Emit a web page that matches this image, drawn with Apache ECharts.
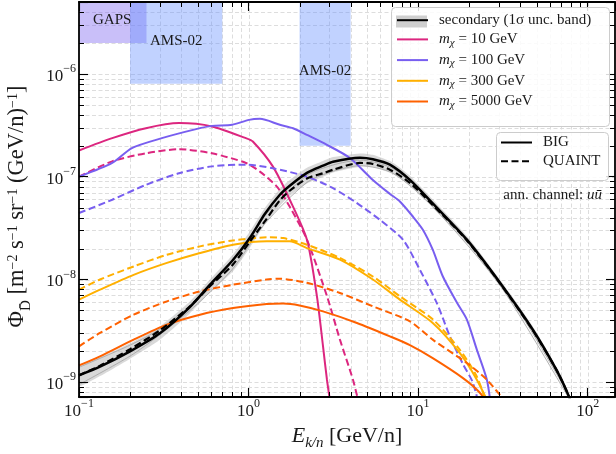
<!DOCTYPE html>
<html><head><meta charset="utf-8">
<script src="https://cdn.jsdelivr.net/npm/echarts@6/dist/echarts.min.js"></script>
<style>html,body{margin:0;padding:0;background:#fff}#c{width:616px;height:454px}</style>
</head><body><div id="c"></div>
<script>
const FONT = '"Liberation Serif","DejaVu Serif",serif';
const TXT = '#1a1a1a';
const xRange = [0.1, 145];
const yRange = [7.2e-10, 5e-6];
const gridXValues = [0.2,0.3,0.4,0.5,0.6,0.7,0.8,0.9,1,2,3,4,5,6,7,8,9,10,20,30,40,50,60,70,80,90,100];
const gridYValues = [8e-10,9e-10,1e-9,2e-9,3e-9,4e-9,5e-9,6e-9,7e-9,8e-9,9e-9,1e-8,2e-8,3e-8,4e-8,5e-8,6e-8,7e-8,8e-8,9e-8,1e-7,2e-7,3e-7,4e-7,5e-7,6e-7,7e-7,8e-7,9e-7,1e-6,2e-6,3e-6,4e-6];
const minorXTicks = [0.2,0.3,0.4,0.5,0.6,0.7,0.8,0.9,2,3,4,5,6,7,8,9,20,30,40,50,60,70,80,90];
const minorYTicks = [8e-10,9e-10,2e-9,3e-9,4e-9,5e-9,6e-9,7e-9,8e-9,9e-9,2e-8,3e-8,4e-8,5e-8,6e-8,7e-8,8e-8,9e-8,2e-7,3e-7,4e-7,5e-7,6e-7,7e-7,8e-7,9e-7,2e-6,3e-6,4e-6];

// experiment boxes [E_min, Phi_min] -> [E_max, Phi_max]
const gapsBox = [[0.1, 2e-6], [0.25, 5e-6]];
const ams1Box = [[0.2, 8e-7], [0.7, 5e-6]];
const ams2Box = [[2, 2e-7], [4, 5e-6]];

// secondary
const secondaryBIG = [[0.1,1.17e-9],[0.133,1.42e-9],[0.2,2.0e-9],[0.3,3.0e-9],[0.446,5.3e-9],[0.592,8.9e-9],[0.809,1.55e-8],[1.02,2.55e-8],[1.25,4.36e-8],[1.53,6.67e-8],[1.75,8.17e-8],[2.21,1.09e-7],[2.75,1.28e-7],[3.15,1.4e-7],[4.54,1.53e-7],[5.41,1.48e-7],[6.82,1.31e-7],[8.95,9.3e-8],[12.2,5.5e-8],[19.4,2.44e-8],[30.4,9.3e-9],[47.5,3.25e-9],[65.8,1.3e-9],[77.5,7.3e-10],[80,6e-10]];
const secondaryQUAINT = [[0.1,1.17e-9],[0.133,1.45e-9],[0.2,2.1e-9],[0.3,3.2e-9],[0.446,5.4e-9],[0.592,8.6e-9],[0.809,1.4e-8],[1.02,2.35e-8],[1.25,3.7e-8],[1.53,5.9e-8],[1.75,7.3e-8],[2.21,9.6e-8],[2.75,1.08e-7],[3.15,1.17e-7],[4.54,1.36e-7],[5.41,1.33e-7],[6.82,1.17e-7],[8.95,8.7e-8],[12.2,5.3e-8],[19.4,2.4e-8],[30.4,9.2e-9],[47.5,3.2e-9],[65.8,1.3e-9],[77.5,7.3e-10],[80,6e-10]];
const bandUpper = [[0.1,1.45e-9],[0.133,1.75e-9],[0.2,2.4e-9],[0.3,3.5e-9],[0.446,6.0e-9],[0.592,1.0e-8],[0.809,1.75e-8],[1.02,2.95e-8],[1.25,5.0e-8],[1.53,7.6e-8],[1.75,9.3e-8],[2.21,1.22e-7],[2.75,1.42e-7],[3.15,1.55e-7],[4.54,1.68e-7],[5.41,1.63e-7],[7.1,1.37e-7],[8.95,1.02e-7],[12.2,6.0e-8],[19.4,2.65e-8],[30.4,1.0e-8],[47.5,3.5e-9],[65.8,1.4e-9],[77.5,8.0e-10],[82,6e-10]];
const bandLower = [[0.1,0.92e-9],[0.133,1.15e-9],[0.2,1.7e-9],[0.3,2.6e-9],[0.446,4.6e-9],[0.592,7.5e-9],[0.809,1.2e-8],[1.02,2.05e-8],[1.25,3.45e-8],[1.53,5.2e-8],[1.75,6.5e-8],[2.21,8.6e-8],[2.75,1.0e-7],[3.15,1.1e-7],[4.54,1.25e-7],[5.41,1.24e-7],[7.1,1.06e-7],[8.95,8.2e-8],[12.2,5.0e-8],[19.4,2.25e-8],[30.4,8.6e-9],[47.5,3.0e-9],[65.8,1.2e-9],[77.5,6.7e-10],[78,6e-10]];
const grayCurveA = [[0.1,0.95e-9],[0.2,1.8e-9],[0.3,2.9e-9],[0.5,5.8e-9],[0.8,1.25e-8],[1.25,3.5e-8],[2.21,8.8e-8],[3.15,1.13e-7],[4.54,1.28e-7],[7.1,1.08e-7],[12.2,5.1e-8],[30.4,8.8e-9],[77.5,7e-10]];
const grayCurveB = [[0.1,1.4e-9],[0.2,2.3e-9],[0.3,3.3e-9],[0.5,6.4e-9],[0.8,1.5e-8],[1.25,4.2e-8],[2.21,1.03e-7],[3.15,1.3e-7],[4.54,1.45e-7],[7.1,1.2e-7],[12.2,5.6e-8],[30.4,9.6e-9],[77.5,7.5e-10]];

// dark matter, m = 10 GeV
const m10BIG = [[0.1,1.8e-7],[0.157,2.37e-7],[0.248,2.96e-7],[0.389,3.32e-7],[0.608,3.08e-7],[0.965,2.37e-7],[1.06,2.2e-7],[1.39,1.26e-7],[1.75,5.97e-8],[2.21,2.44e-8],[2.53,6.9e-9],[2.75,2.24e-9],[2.9,1.06e-9],[3.05,6e-10]];
const m10QUAINT = [[0.1,1.0e-7],[0.157,1.41e-7],[0.248,1.69e-7],[0.389,1.85e-7],[0.608,1.69e-7],[0.965,1.36e-7],[1.167,1.12e-7],[1.47,8.0e-8],[1.75,5.1e-8],[2.21,2.44e-8],[2.9,6.9e-9],[3.46,2.6e-9],[4.13,1.06e-9],[4.5,6e-10]];
// m = 100 GeV
const m100BIG = [[0.1,1.0e-7],[0.157,1.36e-7],[0.205,1.9e-7],[0.308,2.37e-7],[0.49,2.9e-7],[0.608,3.12e-7],[0.8,3.2e-7],[1.006,3.57e-7],[1.167,3.65e-7],[1.53,3.2e-7],[1.83,2.96e-7],[2.21,2.55e-7],[2.9,2.04e-7],[3.96,1.52e-7],[5.41,9.3e-8],[6.82,6.8e-8],[7.81,5.74e-8],[9.31,4.1e-8],[10.67,3.05e-8],[12.2,1.95e-8],[14.0,1.07e-8],[17.0,5.9e-9],[19.4,4.07e-9],[22.2,2.08e-9],[25.45,1.06e-9],[27,5.5e-10]];
const m100QUAINT = [[0.1,4.43e-8],[0.157,5.97e-8],[0.248,8.33e-8],[0.389,1.08e-7],[0.608,1.26e-7],[0.965,1.31e-7],[1.39,1.21e-7],[2.21,1.0e-7],[3.15,7.74e-8],[4.36,5.53e-8],[5.96,3.8e-8],[8.14,2.44e-8],[10.25,1.24e-8],[12.9,5.9e-9],[15.4,2.8e-9],[18.4,1.5e-9],[21.0,1.0e-9],[23.5,5e-10]];
// m = 300 GeV
const m300BIG = [[0.1,6.37e-9],[0.133,7.96e-9],[0.21,1.11e-8],[0.33,1.45e-8],[0.517,1.81e-8],[0.81,2.18e-8],[1.28,2.35e-8],[1.75,2.35e-8],[2.21,2.02e-8],[3.46,1.56e-8],[5.41,1.0e-8],[7.81,6.37e-9],[12.2,3.78e-9],[17.6,1.93e-9],[22.2,1.06e-9],[27,5.5e-10]];
const m300QUAINT = [[0.1,7.96e-9],[0.133,1.0e-8],[0.21,1.34e-8],[0.33,1.74e-8],[0.517,2.1e-8],[0.81,2.4e-8],[1.28,2.57e-8],[1.6,2.53e-8],[2.21,2.18e-8],[3.46,1.62e-8],[5.41,1.07e-8],[7.81,6.86e-9],[12.2,4.1e-9],[17.6,2.08e-9],[22.2,1.14e-9],[26,5.5e-10]];
// m = 5000 GeV
const m5000BIG = [[0.1,1.46e-9],[0.133,1.79e-9],[0.21,2.6e-9],[0.33,3.64e-9],[0.517,4.55e-9],[0.81,5.28e-9],[1.28,5.78e-9],[1.6,5.85e-9],[2.0,5.6e-9],[2.75,4.9e-9],[4.36,3.78e-9],[6.82,2.8e-9],[8.95,2.3e-9],[12.2,1.72e-9],[18.4,1.1e-9],[23,8e-10],[27,5.5e-10]];
const m5000QUAINT = [[0.1,2.24e-9],[0.133,3.02e-9],[0.21,4.55e-9],[0.33,6.13e-9],[0.517,7.66e-9],[0.81,8.9e-9],[1.28,1.0e-8],[1.5,1.02e-8],[2.21,9.3e-9],[3.46,7.4e-9],[5.41,5.48e-9],[8.95,3.92e-9],[12.2,2.6e-9],[19.4,1.54e-9],[25.45,1.06e-9],[34,6e-10]];

const C10 = '#DC267F', C100 = '#785EF0', C300 = '#FFB000', C5000 = '#FE6100';
const DASH = [7, 3.5];

function isPow10(v){ const l = Math.log10(v); return Math.abs(l - Math.round(l)) < 1e-6; }
function powLabel(v){
  if (!isPow10(v)) return '';
  const e = Math.round(Math.log10(v));
  return '{b|10}{s|' + (e < 0 ? '\u2212' : '') + Math.abs(e) + '}';
}
const powRich = {
  b: {fontFamily: FONT, fontSize: 17, color: TXT, lineHeight: 22, verticalAlign: 'bottom'},
  s: {fontFamily: FONT, fontSize: 12, color: TXT, lineHeight: 10, verticalAlign: 'top'}
};

function line(name, data, color, dashed, width) {
  return {type: 'line', name: name, data: data, symbol: 'none', showSymbol: false,
    smooth: 0.25, clip: true, z: 3, silent: true,
    lineStyle: {color: color, width: width || 2, type: dashed ? DASH : 'solid'},
    itemStyle: {color: color}, emphasis: {disabled: true}};
}

const axisLineStyle = {show: true, lineStyle: {color: '#000', width: 1.8}};
const frameX = (pos, show) => ({type: 'log', logBase: 10, min: xRange[0], max: xRange[1], position: pos, z: 4,
  axisLine: axisLineStyle, axisTick: {show: true, inside: true, length: 9, lineStyle: {color: '#000', width: 1.1}},
  splitLine: {show: false}, minorTick: {show: false},
  axisLabel: {show: show, interval: 0, margin: 1, formatter: powLabel, rich: powRich}});
const frameY = (pos, show) => ({type: 'log', logBase: 10, min: yRange[0], max: yRange[1], position: pos, z: 4,
  axisLine: axisLineStyle, axisTick: {show: true, inside: true, length: 9, lineStyle: {color: '#000', width: 1.1}},
  splitLine: {show: false}, minorTick: {show: false},
  axisLabel: {show: show, interval: 0, margin: 3, formatter: powLabel, rich: powRich}});

const xAxisBottom = frameX('bottom', true);
xAxisBottom.name = '{i|E}{sub|k/n}{t| [GeV/n]}';
xAxisBottom.nameLocation = 'middle';
xAxisBottom.nameGap = 27;
xAxisBottom.nameTextStyle = {fontFamily: FONT, color: TXT, rich: {
  i: {fontFamily: FONT, fontStyle: 'italic', fontSize: 22, lineHeight: 26, color: TXT, verticalAlign: 'top'},
  sub: {fontFamily: FONT, fontStyle: 'italic', fontSize: 15, lineHeight: 14, color: TXT, verticalAlign: 'bottom'},
  t: {fontFamily: FONT, fontSize: 22, lineHeight: 26, color: TXT, verticalAlign: 'top'}}};

const yAxisLeft = frameY('left', true);
yAxisLeft.name = '{a|\u03A6}{sub|D\u0304}{a| [m}{sup|\u22122}{a| s}{sup|\u22121}{a| sr}{sup|\u22121}{a| (GeV/n)}{sup|\u22121}{a|]}';
yAxisLeft.nameLocation = 'middle';
yAxisLeft.nameRotate = 90;
yAxisLeft.nameGap = 45;
yAxisLeft.nameTextStyle = {fontFamily: FONT, color: TXT, padding: [0, 14, 0, 0], rich: {
  a: {fontFamily: FONT, fontSize: 22.5, lineHeight: 28, color: TXT, verticalAlign: 'top'},
  sup: {fontFamily: FONT, fontSize: 14, lineHeight: 14, color: TXT, verticalAlign: 'top'},
  sub: {fontFamily: FONT, fontSize: 15, lineHeight: 14, color: TXT, verticalAlign: 'bottom'}}};

function gridSeries(values, isX) {
  return {type: 'custom', silent: true, z: 0, clip: true,
    data: values.map(v => isX ? [v, yRange[0]] : [xRange[0], v]),
    renderItem: function (params, api) {
      const cs = params.coordSys;
      const p = api.coord([api.value(0), api.value(1)]);
      const style = {stroke: '#dddddd', lineWidth: 1, lineDash: [4, 2.5]};
      if (isX) { const x = Math.round(p[0]) + 0.5; return {type: 'line', shape: {x1: x, y1: cs.y, x2: x, y2: cs.y + cs.height}, style: style}; }
      const y = Math.round(p[1]) + 0.5; return {type: 'line', shape: {x1: cs.x, y1: y, x2: cs.x + cs.width, y2: y}, style: style};
    }};
}
function tickSeries(values, isX) {
  return {type: 'custom', silent: true, z: 4,
    data: values.map(v => isX ? [v, yRange[0]] : [xRange[0], v]),
    renderItem: function (params, api) {
      const cs = params.coordSys;
      const p = api.coord([api.value(0), api.value(1)]);
      const st = {stroke: '#000', lineWidth: 1};
      const L = 5;
      if (isX) { const x = Math.round(p[0]) + 0.5; return {type: 'group', children: [
        {type: 'line', shape: {x1: x, y1: cs.y + cs.height, x2: x, y2: cs.y + cs.height - L}, style: st},
        {type: 'line', shape: {x1: x, y1: cs.y, x2: x, y2: cs.y + L}, style: st}]}; }
      const y = Math.round(p[1]) + 0.5; return {type: 'group', children: [
        {type: 'line', shape: {x1: cs.x, y1: y, x2: cs.x + L, y2: y}, style: st},
        {type: 'line', shape: {x1: cs.x + cs.width, y1: y, x2: cs.x + cs.width - L, y2: y}, style: st}]};
    }};
}

const bandSeries = {type: 'custom', name: 'band', silent: true, z: 2, clip: true,
  data: [[1, 1e-8]],
  renderItem: function (params, api) {
    const pts = bandUpper.map(d => api.coord(d)).concat(bandLower.slice().reverse().map(d => api.coord(d)));
    return {type: 'polygon', shape: {points: pts, smooth: 0.2}, style: {fill: 'rgba(185,185,185,0.55)'}};
  }};

const boxLabel = {show: true, position: 'insideTopLeft', distance: 0, color: TXT, fontFamily: FONT, fontSize: 15};
const boxSeries = {type: 'line', name: 'boxes', data: [], z: 1, silent: true,
  markArea: {silent: true, data: [
    [{name: 'GAPS', xAxis: gapsBox[0][0], yAxis: gapsBox[0][1], itemStyle: {color: 'rgba(120,94,240,0.40)'}, label: Object.assign({}, boxLabel, {offset: [14, 11]})},
     {xAxis: gapsBox[1][0], yAxis: gapsBox[1][1]}],
    [{name: 'AMS-02', xAxis: ams1Box[0][0], yAxis: ams1Box[0][1], itemStyle: {color: 'rgba(100,143,255,0.40)'}, label: Object.assign({}, boxLabel, {offset: [20, 32]})},
     {xAxis: ams1Box[1][0], yAxis: ams1Box[1][1]}],
    [{name: 'AMS-02', xAxis: ams2Box[0][0], yAxis: ams2Box[0][1], itemStyle: {color: 'rgba(100,143,255,0.40)'}, label: Object.assign({}, boxLabel, {position: 'insideTop', offset: [0, 62]})},
     {xAxis: ams2Box[1][0], yAxis: ams2Box[1][1]}]
  ]}};

const legendNames = {
  'secondary': '{sp|}{t|secondary (1\u03C3 unc. band)}',
  'm10': '{sp|}{i|m}{sub|\u03C7}{t| = 10 GeV}',
  'm100': '{sp|}{i|m}{sub|\u03C7}{t| = 100 GeV}',
  'm300': '{sp|}{i|m}{sub|\u03C7}{t| = 300 GeV}',
  'm5000': '{sp|}{i|m}{sub|\u03C7}{t| = 5000 GeV}',
  'BIG': '{sp|}{t|BIG}',
  'QUAINT': '{sp|}{t|QUAINT}'
};
const legendRich = {
  sp: {width: 6},
  t: {fontFamily: FONT, fontSize: 15, lineHeight: 18, color: TXT},
  i: {fontFamily: FONT, fontSize: 15, fontStyle: 'italic', lineHeight: 18, color: TXT},
  sub: {fontFamily: FONT, fontSize: 11, fontStyle: 'italic', lineHeight: 9, color: TXT, verticalAlign: 'bottom'}
};
const legendCommon = {orient: 'vertical', itemWidth: 31, itemHeight: 14, z: 6, selectedMode: false,
  itemStyle: {opacity: 0}, formatter: n => legendNames[n],
  textStyle: {fontFamily: FONT, fontSize: 15, color: TXT, rich: legendRich}};

const option = {
  animation: false,
  backgroundColor: '#fff',
  grid: {left: 79, right: 1, top: 2, bottom: 57, containLabel: false, outerBoundsMode: 'none'},
  xAxis: [xAxisBottom, frameX('top', false)],
  yAxis: [yAxisLeft, frameY('right', false)],
  legend: [
    Object.assign({data: ['secondary', 'm10', 'm100', 'm300', 'm5000'], left: 391, top: 7,
      padding: [5.7, 6, 5.7, 5], itemGap: 4.2}, legendCommon),
    Object.assign({data: ['BIG', 'QUAINT'], left: 496, top: 132,
      padding: [3, 6, 3, 4], itemGap: 3.7}, legendCommon)
  ],
  graphic: [
    {type: 'rect', z: 5, silent: true, shape: {x: 391.5, y: 7.5, width: 218, height: 119, r: 4}, style: {fill: 'rgba(255,255,255,0.85)', stroke: '#cccccc', lineWidth: 1}},
    {type: 'rect', z: 5, silent: true, shape: {x: 396, y: 15.5, width: 31, height: 12}, style: {fill: '#cfcfcf'}},
    {type: 'rect', z: 5, silent: true, shape: {x: 496.5, y: 132.5, width: 112, height: 48, r: 4}, style: {fill: 'rgba(255,255,255,0.85)', stroke: '#cccccc', lineWidth: 1}},
    {type: 'text', z: 6, silent: true, x: 602, y: 195, style: {text: '{t|ann. channel: }{i|u\u016B}', align: 'right', verticalAlign: 'middle',
      rich: {t: {fontFamily: FONT, fontSize: 15, fill: TXT, color: TXT}, i: {fontFamily: FONT, fontSize: 15, fontStyle: 'italic', fill: TXT, color: TXT}}}}
  ],
  series: [
    gridSeries(gridXValues, true), gridSeries(gridYValues, false),
    boxSeries,
    bandSeries,
    line('grayA', grayCurveA, '#a8a8a8', false, 0.9),
    line('grayB', grayCurveB, '#a8a8a8', false, 0.9),
    line('m10', m10BIG, C10, false), line('m10 QUAINT', m10QUAINT, C10, true),
    line('m100', m100BIG, C100, false), line('m100 QUAINT', m100QUAINT, C100, true),
    line('m300', m300BIG, C300, false), line('m300 QUAINT', m300QUAINT, C300, true),
    line('m5000', m5000BIG, C5000, false), line('m5000 QUAINT', m5000QUAINT, C5000, true),
    line('secondary', secondaryBIG, '#000', false, 2.5),
    line('secondary QUAINT', secondaryQUAINT, '#000', true, 2.2),
    line('BIG', [], '#000', false, 2.5),
    line('QUAINT', [], '#000', true, 2.5),
    tickSeries(minorXTicks, true), tickSeries(minorYTicks, false)
  ]
};
const chart = echarts.init(document.getElementById('c'), null, {renderer: 'canvas'});
chart.setOption(option);
</script>
</body></html>
